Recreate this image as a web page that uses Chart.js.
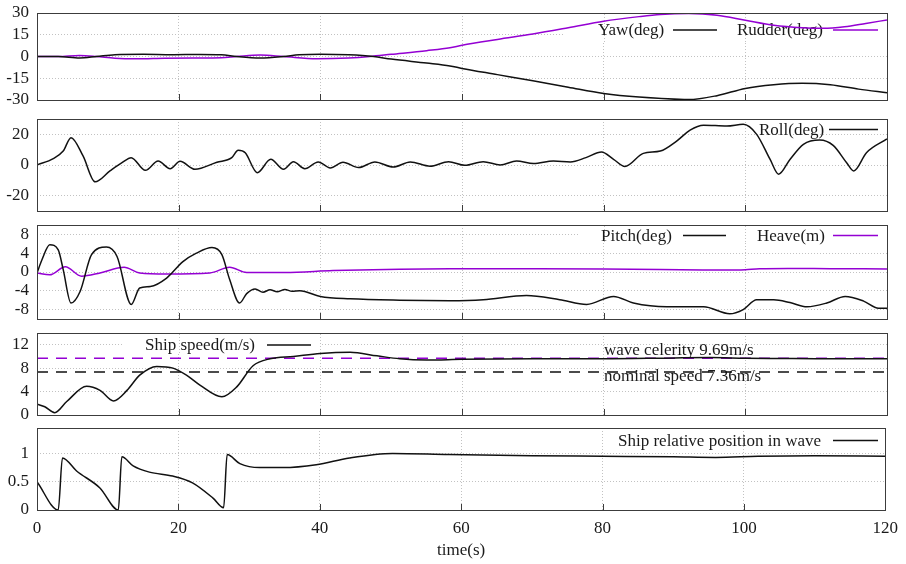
<!DOCTYPE html>
<html>
<head>
<meta charset="utf-8">
<script src="https://cdn.jsdelivr.net/npm/chart.js@4"></script>
<style>
  html, body { margin: 0; padding: 0; background: #fff; }
  #wrap { position: relative; width: 906px; height: 564px; overflow: hidden; background: #fff; }
  #wrap canvas { position: absolute; left: 0; }
</style>
</head>
<body>
<div id="wrap">
  <canvas id="pYaw"   width="906" height="127" style="top:-7px"></canvas>
  <canvas id="pRoll"  width="906" height="132" style="top:99px"></canvas>
  <canvas id="pPitch" width="906" height="134" style="top:205px"></canvas>
  <canvas id="pSpeed" width="906" height="122" style="top:313px"></canvas>
  <canvas id="pPos"   width="906" height="156" style="top:408px"></canvas>
</div>
<script>
// ---- time axis ----
const TIME_MIN = 0, TIME_MAX = 120;
const timeTicks = [0, 20, 40, 60, 80, 100, 120];

// ---- y tick values per panel ----
const yawTicks = [-30, -15, 0, 15, 30];
const rollTicks = [-20, 0, 20];
const pitchTicks = [-8, -4, 0, 4, 8];
const speedTicks = [0, 4, 8, 12];
const posTicks = [0, 0.5, 1];

// ---- yaw / rudder (deg) ----
const yawT = [0, 3, 6, 8.4, 11, 15, 19, 23, 26, 28.2, 31.5, 34.8, 37, 40, 44, 47.5, 50, 55, 58.3, 60, 65, 70, 75, 80, 85, 92, 96, 100, 104, 108, 112, 116, 120];
const yawV = [0, 0, -1, 0, 1.2, 1.5, 1.2, 1.4, 1.2, 0, -1, 0, 1.2, 1.6, 1.2, 0, -1.8, -4.5, -6.5, -8.2, -12.5, -16.8, -21.2, -25.5, -28, -29.7, -27, -22, -19.5, -18.5, -19.5, -22.5, -25];
const rudderT = [0, 3, 6, 8.4, 11, 14, 18, 22, 26, 28.2, 31.5, 34.8, 39.5, 44, 47, 50, 55, 58.3, 60, 65, 70, 75, 80, 85, 88, 92, 96, 100, 104, 108, 111, 114, 117, 120];
const rudderV = [0, 0, 0.7, 0, -1.2, -1.6, -1.2, -1, -0.8, 0, 1, 0, -1.5, -1, 0, 1.5, 4, 6, 7.8, 11.8, 15.5, 19.8, 24.3, 27.5, 29, 29.7, 28.5, 25, 21.5, 19.8, 19.4, 20.5, 22.8, 25.2];

// ---- roll (deg) ----
const rollT = [0, 2.3, 3.7, 4.8, 6.5, 8.2, 10.3, 12, 13.3, 15.3, 17.1, 18.8, 20.2, 22.3, 25.4, 27.5, 28.4, 29.4, 31.1, 33, 34.8, 36.2, 37.8, 39.7, 41.4, 43.2, 45.4, 47.7, 50.3, 52.7, 55.5, 58.1, 60.4, 63, 65.4, 67.7, 70.1, 72.9, 75.3, 77.5, 79.7, 81.4, 83, 85.6, 88, 90.3, 92.2, 94.1, 97.4, 99.7, 101.6, 103.5, 104.7, 106.3, 108.2, 110.5, 112.4, 114.3, 115.3, 117.1, 120];
const rollV = [0, 4.2, 9.1, 17.8, 5.9, -11, -3.9, 1.5, 4.8, -3.5, 2.6, -2.4, 2.4, -2.8, 1.8, 4.8, 9.6, 8, -5, 3.7, -2.8, 2.2, -2.4, 2, -1.9, 1.8, -1.7, 2, -1.3, 2, -0.8, 2.2, -0.2, 2.2, 0, 2.6, 0.9, 2.6, 2, 4.8, 8.5, 3.7, -1, 7.6, 9.1, 15.6, 22.8, 26, 25.4, 26.5, 20, 3.6, -6, 3.6, 13.5, 16.3, 12.8, 1.5, -3.9, 8, 17];

// ---- pitch (deg) / heave (m) ----
const pitchT = [0, 0.7, 1.8, 3, 3.7, 4.8, 6.1, 7.7, 9.8, 11.3, 13.3, 14.5, 16, 18.3, 20.6, 22.5, 24.7, 26.1, 27.2, 28.6, 29.6, 30.8, 31.9, 32.9, 33.9, 35, 36, 37.1, 40, 44.2, 51.2, 58.3, 63, 69.1, 73.8, 77.6, 81.4, 84.2, 88.9, 94.1, 97.8, 99.7, 101.6, 104, 106.3, 108.7, 111.5, 114.1, 116.7, 118.8, 120];
const pitchV = [-0.2, 2.6, 5.8, 4.7, 0.5, -6.6, -4.1, 3.7, 5.3, 3.3, -6.9, -3.4, -3.1, -1.3, 2.2, 4, 5.2, 3.7, -1.6, -6.6, -4.6, -3.6, -4.3, -3.8, -4.2, -3.7, -4.1, -4, -5.2, -5.7, -6, -6.1, -5.9, -5, -5.9, -6.9, -5.2, -6.6, -7.4, -7.4, -8.9, -8, -5.9, -5.9, -6.5, -7.4, -6.6, -5.2, -6.2, -7.7, -7.7];
const heaveT = [0, 1.8, 4, 6.3, 8.9, 12.3, 14.5, 18.3, 24.4, 27.2, 29.6, 35, 41.8, 51.2, 58.3, 70, 80, 88, 94, 98, 100, 102, 106, 112, 120];
const heaveV = [-0.2, -0.6, 1.1, -0.9, -0.2, 1, -0.2, -0.4, -0.2, 1, -0.1, -0.1, 0.3, 0.6, 0.7, 0.7, 0.65, 0.55, 0.45, 0.4, 0.5, 0.7, 0.75, 0.7, 0.65];

// ---- ship speed (m/s) ----
const speedT = [0, 1.1, 2.5, 4.2, 7, 8.9, 10.8, 12.7, 14.5, 16.9, 19.2, 21.1, 23, 26.1, 28.2, 30.5, 32.9, 36.2, 40, 44.2, 48, 51.2, 55, 60, 70, 80, 90, 95, 100, 105, 110, 120];
const speedV = [1.86, 1.4, 0.4, 2.3, 4.9, 4.2, 2.4, 4.2, 6.8, 8.3, 8, 6.8, 5.1, 3.1, 4.8, 8.4, 9.6, 10, 10.5, 10.7, 10.1, 9.6, 9.4, 9.5, 9.6, 9.6, 9.75, 9.8, 9.7, 9.65, 9.6, 9.6];
const WAVE_CELERITY = 9.69;
const NOMINAL_SPEED = 7.36;

// ---- relative position in wave ----
const posT = [0, 3, 3.6, 5.6, 8.9, 11.5, 12, 13.6, 15.9, 19.2, 22, 24.9, 26.4, 26.9, 28.7, 31.5, 34.8, 39.5, 44.2, 50.3, 58.3, 70, 80, 90, 96, 102, 110, 120];
const posV = [0.5, 0, 0.92, 0.69, 0.39, 0, 0.94, 0.78, 0.67, 0.6, 0.48, 0.21, 0.04, 0.98, 0.82, 0.75, 0.75, 0.8, 0.92, 1.0, 0.98, 0.96, 0.95, 0.94, 0.93, 0.95, 0.96, 0.95];

// ---- styling ----
const FONT = "'Liberation Serif', 'Times New Roman', serif";
const INK = '#1a1a1a';
const BLACK = '#111111';
const PURPLE = '#9400d3';
const GRID = '#c2c2c2';
const FRAME = '#3c3c3c';

Chart.defaults.font.family = FONT;
Chart.defaults.font.size = 17;
Chart.defaults.color = INK;

const pts = (t, v) => t.map((x, i) => ({ x, y: v[i] }));
const flat = (y) => [{ x: TIME_MIN, y }, { x: TIME_MAX, y }];

function series(label, data, color, extra) {
  return Object.assign({
    label, data, borderColor: color, backgroundColor: color,
    borderWidth: 1.5, pointRadius: 0, fill: false,
    cubicInterpolationMode: 'monotone'
  }, extra || {});
}

function xAxis(showLabels) {
  return {
    type: 'linear', min: TIME_MIN, max: TIME_MAX,
    afterBuildTicks: s => { s.ticks = timeTicks.map(v => ({ value: v })); },
    grid: { color: GRID, lineWidth: 1, drawTicks: false },
    border: { display: false, dash: [1, 2] },
    ticks: { display: showLabels, padding: 8, autoSkip: false, maxRotation: 0, callback: v => String(v) },
    title: { display: showLabels, text: 'time(s)', padding: { top: 0, bottom: 3 } },
    afterFit: s => { s.height = showLabels ? 54 : 0; }
  };
}

function yAxis(min, max, ticks) {
  return {
    type: 'linear', min, max,
    afterBuildTicks: s => { s.ticks = ticks.map(v => ({ value: v })); },
    grid: { color: GRID, lineWidth: 1, drawTicks: false },
    border: { display: false, dash: [1, 2] },
    ticks: { padding: 8, autoSkip: false, callback: v => String(v) },
    afterFit: s => { s.width = 37; }
  };
}

// key text, key samples, gridline masks, frame and inward time ticks
const panelDecor = {
  id: 'panelDecor',
  beforeDatasetsDraw(chart, args, opts) {
    const { ctx, chartArea: a } = chart;
    const xs = chart.scales.x;
    ctx.save();
    for (const m of (opts.masks || [])) {
      const y0 = a.top + m[2], y1 = a.top + m[3];
      ctx.fillStyle = '#fff';
      ctx.fillRect(m[0], y0, m[1] - m[0], y1 - y0);
      // vertical grid lines stay visible through the key area
      ctx.strokeStyle = GRID; ctx.lineWidth = 1; ctx.setLineDash([1, 2]);
      for (const v of timeTicks) {
        const px = Math.round(xs.getPixelForValue(v)) + 0.5;
        if (px > m[0] && px < m[1] && v !== TIME_MIN && v !== TIME_MAX) {
          ctx.beginPath(); ctx.moveTo(px, y0); ctx.lineTo(px, y1); ctx.stroke();
        }
      }
      ctx.setLineDash([]);
    }
    ctx.font = '17px ' + FONT;
    ctx.textBaseline = 'middle';
    ctx.textAlign = 'left';
    for (const it of (opts.items || [])) {
      const ds = it.ds !== undefined ? chart.data.datasets[it.ds] : null;
      const text = it.text || ds.label;
      const y = a.top + it.dy;
      ctx.fillStyle = INK;
      ctx.fillText(text, it.x, y);
      if (it.line && ds) {
        const ly = y - 1;
        ctx.strokeStyle = ds.borderColor; ctx.lineWidth = 1.5;
        ctx.setLineDash(ds.borderDash || []);
        ctx.beginPath(); ctx.moveTo(it.line[0], ly); ctx.lineTo(it.line[1], ly); ctx.stroke();
        ctx.setLineDash([]);
      }
    }
    ctx.restore();
  },
  afterDraw(chart) {
    const { ctx, chartArea: a } = chart;
    const xs = chart.scales.x;
    const L = Math.round(a.left), T = Math.round(a.top), R = Math.round(a.right), B = Math.round(a.bottom);
    ctx.save();
    ctx.strokeStyle = FRAME; ctx.lineWidth = 1;
    ctx.strokeRect(L + 0.5, T + 0.5, R - L, B - T);
    for (const v of timeTicks) {
      if (v === TIME_MIN || v === TIME_MAX) continue;
      const px = Math.round(xs.getPixelForValue(v)) + 0.5;
      ctx.beginPath(); ctx.moveTo(px, B); ctx.lineTo(px, B - 6); ctx.stroke();
    }
    ctx.restore();
  }
};

function panel(id, datasets, y, decor, pad, showX) {
  return new Chart(document.getElementById(id), {
    type: 'line',
    data: { datasets },
    options: {
      responsive: false, animation: false, events: [],
      devicePixelRatio: 1,
      layout: { padding: { left: 0, right: 19, top: pad[0], bottom: pad[1] } },
      plugins: { legend: { display: false }, tooltip: { enabled: false }, panelDecor: decor },
      scales: { x: xAxis(showX), y }
    },
    plugins: [panelDecor]
  });
}

panel('pYaw', [
  series('Yaw(deg)', pts(yawT, yawV), BLACK),
  series('Rudder(deg)', pts(rudderT, rudderV), PURPLE)
], yAxis(-30, 30, yawTicks), {
  masks: [[565, 887, 1, 30]],
  items: [{ ds: 0, x: 598, line: [673, 717], dy: 18 }, { ds: 1, x: 737, line: [833, 878], dy: 18 }]
}, [20, 20], false);

panel('pRoll', [
  series('Roll(deg)', pts(rollT, rollV), BLACK)
], yAxis(-30, 30, rollTicks), {
  items: [{ ds: 0, x: 759, line: [829, 878], dy: 11.5 }]
}, [20, 20], false);

panel('pPitch', [
  series('Pitch(deg)', pts(pitchT, pitchV), BLACK),
  series('Heave(m)', pts(heaveT, heaveV), PURPLE)
], yAxis(-10, 10, pitchTicks), {
  masks: [[580, 887, 1, 18]],
  items: [{ ds: 0, x: 601, line: [683, 726], dy: 11.5 }, { ds: 1, x: 757, line: [833, 878], dy: 11.5 }]
}, [20, 20], false);

panel('pSpeed', [
  series('Ship speed(m/s)', pts(speedT, speedV), BLACK),
  series('wave celerity', flat(WAVE_CELERITY), PURPLE, { borderDash: [11, 8], cubicInterpolationMode: 'default', tension: 0 }),
  series('nominal speed', flat(NOMINAL_SPEED), BLACK, { borderDash: [11, 8], cubicInterpolationMode: 'default', tension: 0 })
], yAxis(0, 14, speedTicks), {
  masks: [[123, 322, 1, 21]],
  items: [
    { ds: 0, x: 145, line: [267, 311], dy: 13 },
    { text: 'wave celerity ' + WAVE_CELERITY + 'm/s', x: 604, dy: 17.5 },
    { text: 'nominal speed ' + NOMINAL_SPEED + 'm/s', x: 604, dy: 44 }
  ]
}, [20, 20], false);

panel('pPos', [
  series('Ship relative position in wave', pts(posT, posV), BLACK)
], yAxis(0, 1.45, posTicks), {
  items: [{ ds: 0, x: 618, line: [833, 878], dy: 13.5 }]
}, [20, 0], true);
</script>
</body>
</html>
